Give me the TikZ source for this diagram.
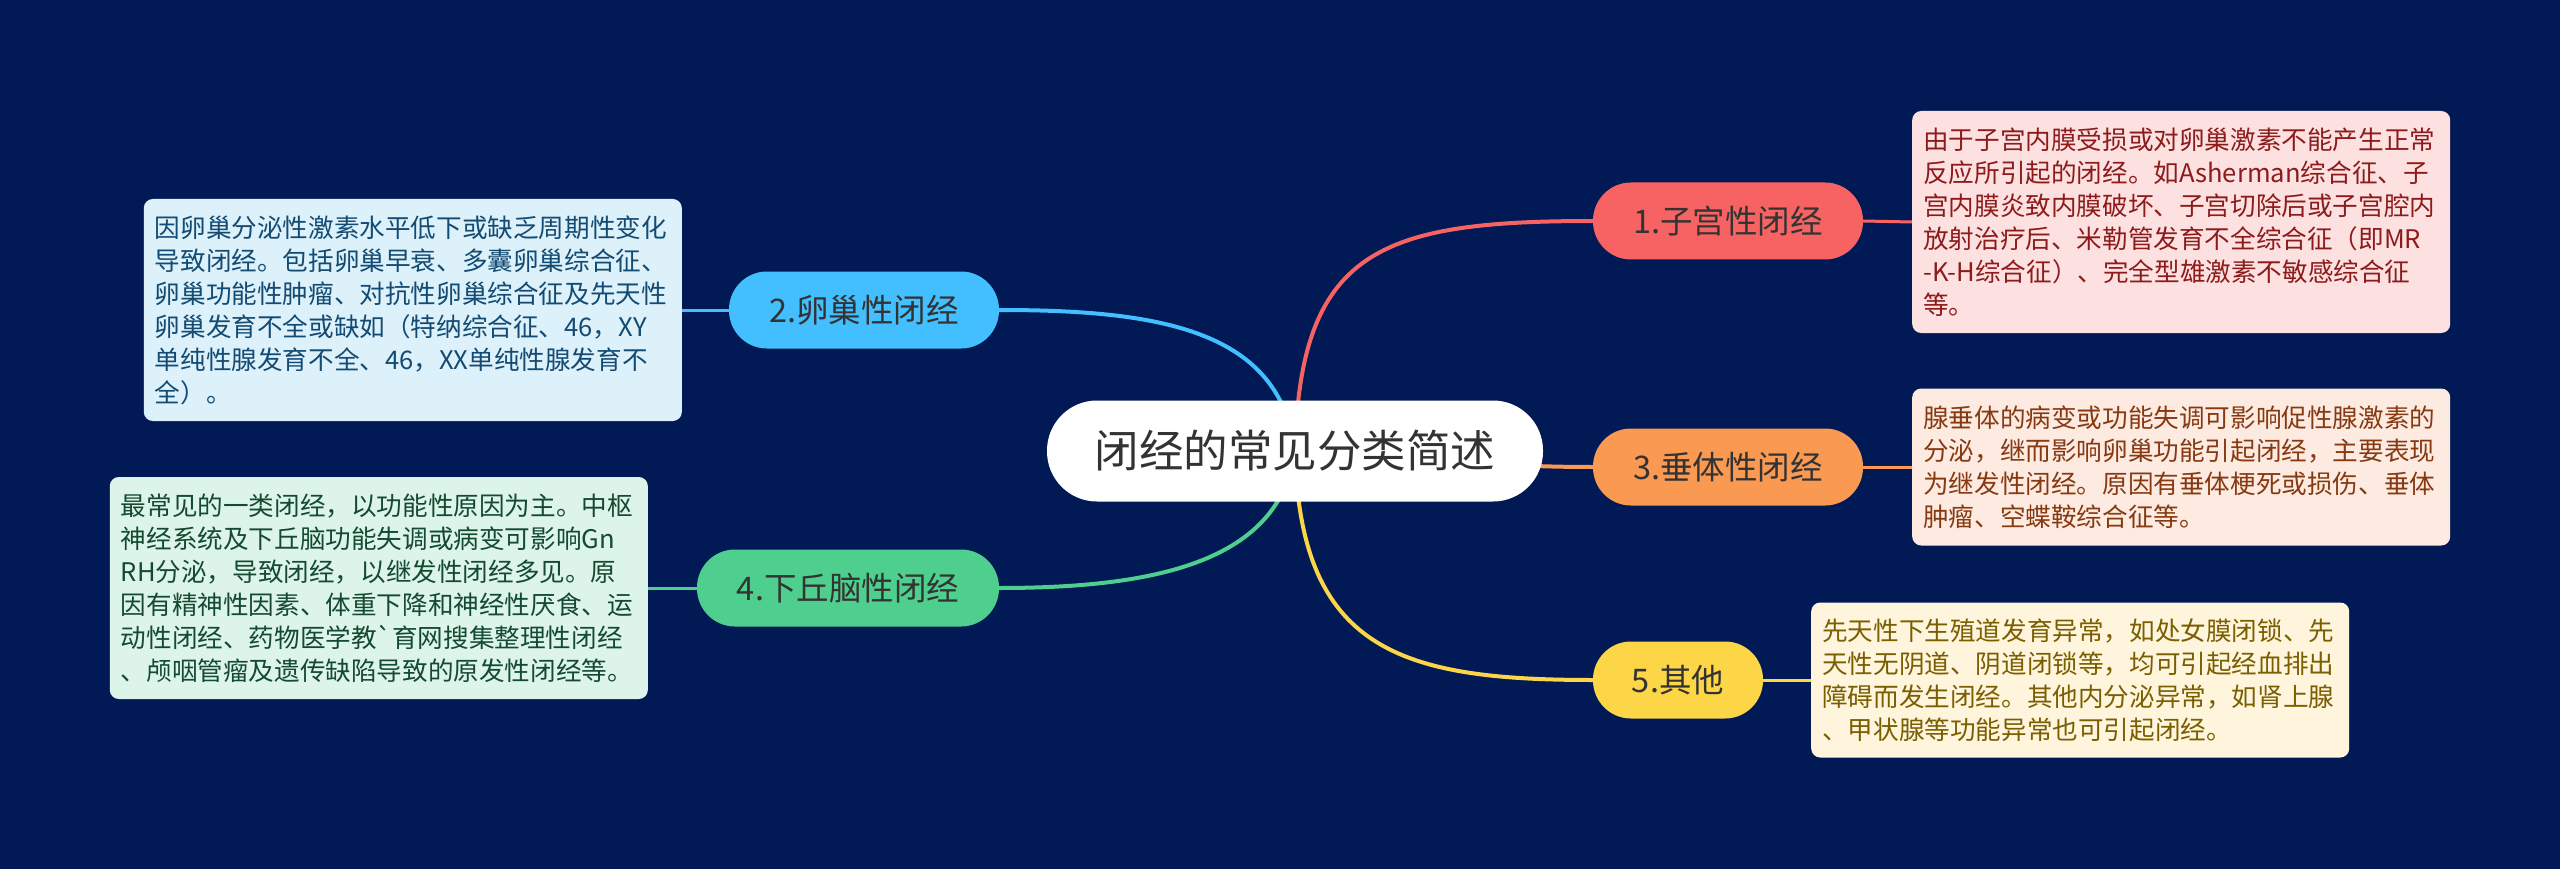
\documentclass[tikz,border=0pt]{standalone}
\usepackage{fontspec}
\setmainfont{Noto Sans CJK SC}[Ligatures=TeXOff]
\definecolor{bgnavy}{HTML}{011A55}
\definecolor{txtdark}{HTML}{333333}
\definecolor{cred}{HTML}{F76363}
\definecolor{corange}{HTML}{FA9952}
\definecolor{cyellow}{HTML}{FCD647}
\definecolor{cblue}{HTML}{43BFFF}
\definecolor{cgreen}{HTML}{4ECF8D}
\definecolor{fred}{HTML}{FDE1E1}
\definecolor{forange}{HTML}{FDEBE1}
\definecolor{fyellow}{HTML}{FEF5DC}
\definecolor{fblue}{HTML}{DDF1FB}
\definecolor{fgreen}{HTML}{DDF4EA}
\definecolor{tred}{HTML}{8E1B1B}
\definecolor{torange}{HTML}{873A12}
\definecolor{tyellow}{HTML}{7A5E00}
\definecolor{tblue}{HTML}{134B73}
\definecolor{tgreen}{HTML}{144A30}
\pgfdeclarelayer{back}
\pgfdeclarelayer{links}
\pgfsetlayers{back,links,main}
\begin{document}
\begin{tikzpicture}[x=1pt,y=-1pt,
  rootbox/.style={fill=white, rounded corners=50pt, minimum width=496pt, minimum height=101pt,
    font=\fontsize{44.5}{50}\selectfont, text=txtdark, inner sep=0pt},
  topic/.style={rounded corners=38pt, minimum height=77pt, inner sep=0pt,
    font=\fontsize{32.5}{38}\selectfont, text=txtdark},
  note/.style={rounded corners=9pt, inner xsep=11pt, inner ysep=0pt, text width=516pt,
    align=left, font=\fontsize{25.6}{33}\selectfont},
  mainlink/.style={line width=4pt},
  sublink/.style={line width=3pt}]
\begin{pgfonlayer}{back}
\fill[bgnavy] (0,0) rectangle (2560,869);
\end{pgfonlayer}
\useasboundingbox (0,0) rectangle (2560,869);

\node[rootbox] (root) at (1295,451) {闭经的常见分类简述};

\node[topic, fill=cred, minimum width=270pt] (t1) at (1728,221) {1.子宫性闭经};
\node[topic, fill=corange, minimum width=270pt] (t3) at (1728,467) {3.垂体性闭经};
\node[topic, fill=cyellow, minimum width=170pt] (t5) at (1678,680) {5.其他};
\node[topic, fill=cblue, minimum width=270pt] (t2) at (864,310) {2.卵巢性闭经};
\node[topic, fill=cgreen, minimum width=302pt] (t4) at (848,588) {4.下丘脑性闭经};

\node[note, fill=fred, text=tred, minimum height=222pt, anchor=west] (n1) at (1912,222) {由于子宫内膜受损或对卵巢激素不能产生正常\\反应所引起的闭经。如Asherman综合征、子\\宫内膜炎致内膜破坏、子宫切除后或子宫腔内\\放射治疗后、米勒管发育不全综合征（即MR\\-K-H综合征）、完全型雄激素不敏感综合征\\等。};
\node[note, fill=forange, text=torange, minimum height=157pt, anchor=west] (n3) at (1912,467) {腺垂体的病变或功能失调可影响促性腺激素的\\分泌，继而影响卵巢功能引起闭经，主要表现\\为继发性闭经。原因有垂体梗死或损伤、垂体\\肿瘤、空蝶鞍综合征等。};
\node[note, fill=fyellow, text=tyellow, minimum height=155pt, anchor=west] (n5) at (1811,680) {先天性下生殖道发育异常，如处女膜闭锁、先\\天性无阴道、阴道闭锁等，均可引起经血排出\\障碍而发生闭经。其他内分泌异常，如肾上腺\\、甲状腺等功能异常也可引起闭经。};
\node[note, fill=fblue, text=tblue, minimum height=222pt, anchor=east] (n2) at (682,310) {因卵巢分泌性激素水平低下或缺乏周期性变化\\导致闭经。包括卵巢早衰、多囊卵巢综合征、\\卵巢功能性肿瘤、对抗性卵巢综合征及先天性\\卵巢发育不全或缺如（特纳综合征、46，XY\\单纯性腺发育不全、46，XX单纯性腺发育不\\全）。};
\node[note, fill=fgreen, text=tgreen, minimum height=222pt, anchor=east] (n4) at (648,588) {最常见的一类闭经，以功能性原因为主。中枢\\神经系统及下丘脑功能失调或病变可影响Gn\\RH分泌，导致闭经，以继发性闭经多见。原\\因有精神性因素、体重下降和神经性厌食、运\\动性闭经、药物医学教`育网搜集整理性闭经\\、颅咽管瘤及遗传缺陷导致的原发性闭经等。};

\begin{pgfonlayer}{links}
\draw[mainlink, cred] (root.center) .. controls (1300,250) and (1380,221) .. (t1.west);
\draw[mainlink, corange] (root.center) .. controls (1450,460) and (1500,467) .. (t3.west);
\draw[mainlink, cyellow] (root.center) .. controls (1300,650) and (1400,680) .. (t5.west);
\draw[mainlink, cblue] (root.center) .. controls (1280,330) and (1160,310) .. (t2.east);
\draw[mainlink, cgreen] (root.center) .. controls (1280,560) and (1160,588) .. (t4.east);
\draw[sublink, cred] (t1.east) -- (n1.west);
\draw[sublink, corange] (t3.east) -- (n3.west);
\draw[sublink, cyellow] (t5.east) -- (n5.west);
\draw[sublink, cblue] (t2.west) -- (n2.east);
\draw[sublink, cgreen] (t4.west) -- (n4.east);
\end{pgfonlayer}
\end{tikzpicture}
\end{document}
